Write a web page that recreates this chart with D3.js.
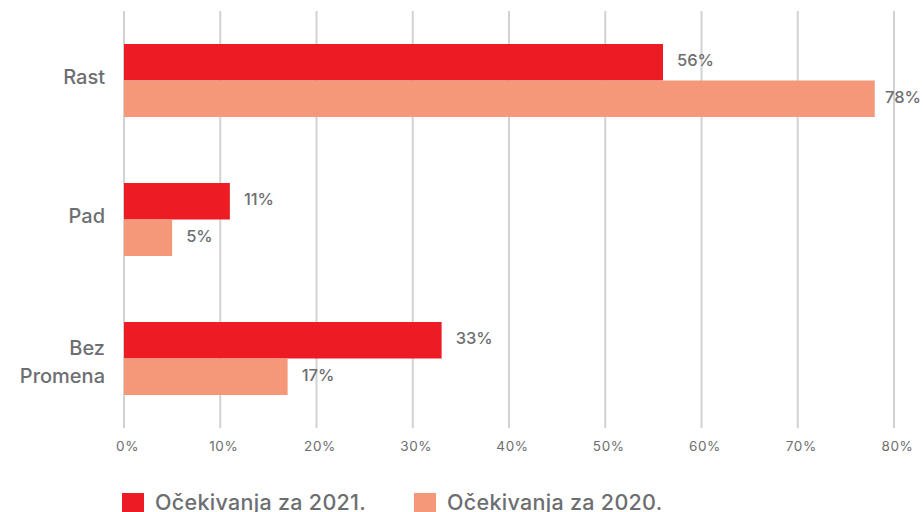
<!DOCTYPE html>
<html lang="sr">
<head>
<meta charset="utf-8">
<title>Očekivanja</title>
<script src="https://cdn.jsdelivr.net/npm/d3@7"></script>
<style>
  body { margin: 0; background: #fff; }
  svg text { font-family: Inter, "Open Sans", sans-serif; fill: #6d6e71; }
</style>
</head>
<body>
<div id="chart"></div>
<script>
var categories = [["Rast"], ["Pad"], ["Bez", "Promena"]];
var catKeys = ["Rast", "Pad", "Bez Promena"];
var seriesNames = ["Očekivanja za 2021.", "Očekivanja za 2020."];
var values2021 = [56, 11, 33];
var values2020 = [78, 5, 17];
var tickValues = [0, 10, 20, 30, 40, 50, 60, 70, 80];
var colors = ["#ed1c24", "#f5987a"];

var w = 923, h = 512;

var svg = d3.select("#chart").append("svg")
  .attr("width", w)
  .attr("height", h);

var xScale = d3.scaleLinear().domain([0, 80]).range([124, 894]);

var yScale = d3.scaleBand()
  .domain(catKeys)
  .range([44, 395])
  .paddingInner(0.475)
  .paddingOuter(0);

var inner = d3.scaleBand()
  .domain([0, 1])
  .range([0, yScale.bandwidth()]);

// gridlines
svg.append("g").selectAll("line")
  .data(tickValues)
  .enter().append("line")
  .attr("x1", d => xScale(d))
  .attr("x2", d => xScale(d))
  .attr("y1", 11)
  .attr("y2", 428)
  .attr("stroke", "#d1d2d3")
  .attr("stroke-width", 2);

// x axis labels
var xAxis = d3.axisBottom(xScale)
  .tickValues(tickValues)
  .tickSize(0)
  .tickPadding(0)
  .tickFormat(d => d + "%");

svg.append("g")
  .attr("transform", "translate(0,440)")
  .call(xAxis)
  .call(g => g.select(".domain").remove())
  .selectAll("text")
  .attr("font-size", 13.5)
  .attr("letter-spacing", 0.6)
  .attr("dy", "0.35em")
  .attr("y", 6)
  .attr("dx", 3)
  .style("font-family", "Inter, 'Open Sans', sans-serif")
  .attr("fill", "#6d6e71");

var rows = catKeys.map((k, i) => ({ key: k, vals: [values2021[i], values2020[i]] }));

var groups = svg.selectAll("g.cat")
  .data(rows)
  .enter().append("g")
  .attr("class", "cat")
  .attr("transform", d => "translate(0," + yScale(d.key) + ")");

groups.selectAll("rect")
  .data(d => d.vals)
  .enter().append("rect")
  .attr("x", xScale(0))
  .attr("y", (d, i) => inner(i))
  .attr("width", d => xScale(d) - xScale(0))
  .attr("height", inner.bandwidth())
  .attr("fill", (d, i) => colors[i]);

groups.selectAll("text.val")
  .data(d => d.vals)
  .enter().append("text")
  .attr("class", "val")
  .attr("x", d => xScale(d) + 14)
  .attr("y", (d, i) => inner(i) + inner.bandwidth() / 2 - 2)
  .attr("dy", "0.35em")
  .attr("font-size", 16.5)
  .attr("font-weight", 500)
  .text(d => d + "%")
  .each(function (d) {
    // keep label inside the page
    var len = this.getComputedTextLength();
    var x = xScale(d) + 14;
    if (x + len > w - 2) d3.select(this).attr("x", Math.max(xScale(d) + 6, w - 2 - len));
  });

// category labels
var catLabels = svg.append("g");
categories.forEach(function (lines, i) {
  var cy = yScale(catKeys[i]) + yScale.bandwidth() / 2;
  var shift = lines.length > 1 ? 3.5 : -3.5;
  var t = catLabels.append("text")
    .attr("text-anchor", "end")
    .attr("font-size", 20)
    .attr("font-weight", 500);
  lines.forEach(function (line, j) {
    t.append("tspan")
      .attr("x", 105)
      .attr("y", cy + shift + (j - (lines.length - 1) / 2) * 28)
      .attr("dy", "0.35em")
      .text(line);
  });
});

// legend
var legendX = [122, 414];
var legend = svg.append("g");
seriesNames.forEach(function (name, i) {
  legend.append("rect")
    .attr("x", legendX[i])
    .attr("y", 493)
    .attr("width", 22)
    .attr("height", 22)
    .attr("fill", colors[i]);
  legend.append("text")
    .attr("x", legendX[i] + 33)
    .attr("y", 510)
    .attr("font-size", 21.5)
    .attr("font-weight", 500)
    .attr("letter-spacing", 0.3)
    .text(name);
});
</script>
</body>
</html>
